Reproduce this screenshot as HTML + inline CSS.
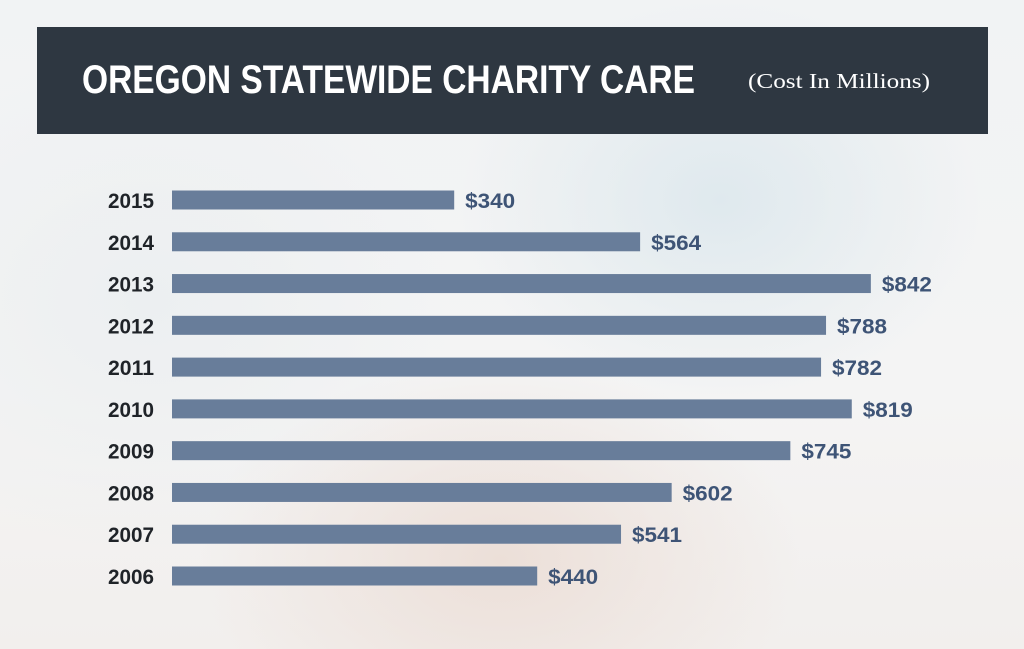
<!DOCTYPE html>
<html><head><meta charset="utf-8"><style>
body{margin:0;width:1024px;height:649px;overflow:hidden;font-family:"Liberation Sans",sans-serif;}
#bg{position:absolute;left:0;top:0;width:1024px;height:649px;
background:radial-gradient(ellipse 260px 200px at 720px 200px,#dfe9ee 0%,rgba(223,233,238,0) 100%),
radial-gradient(ellipse 300px 250px at 150px 300px,#eceff1 0%,rgba(236,239,241,0) 100%),
radial-gradient(ellipse 300px 200px at 500px 560px,#ecdfd8 0%,rgba(236,223,216,0) 100%),
linear-gradient(180deg,#f1f3f4 0%,#f4f4f4 60%,#f2efed 100%);}
#hdr{position:absolute;left:37px;top:27px;width:951px;height:107px;background:#2e3741;}
svg{position:absolute;left:0;top:0;}
</style></head><body>
<div id="bg"></div>
<div id="hdr"></div>
<svg id="chart" width="1024" height="649">
<text x="82" y="93" font-size="40" font-weight="bold" fill="#fff" textLength="613" lengthAdjust="spacingAndGlyphs">OREGON STATEWIDE CHARITY CARE</text>
<text x="748" y="88" font-size="21" font-family="Liberation Serif, serif" fill="#fff" textLength="182" lengthAdjust="spacingAndGlyphs">(Cost In Millions)</text>
</svg>
<script>
const years=["2015","2014","2013","2012","2011","2010","2009","2008","2007","2006"];
const values=[340,564,842,788,782,819,745,602,541,440];
const labels=["$340","$564","$842","$788","$782","$819","$745","$602","$541","$440"];
const svg=document.getElementById('chart');
const NS="http://www.w3.org/2000/svg";
const x0=172, k=0.83;
function xs(v){return x0+v*k;}
function ys(i){return 200+i*(576-200)/(years.length-1);}
years.forEach((yr,i)=>{
 const y=ys(i);
 const r=document.createElementNS(NS,'rect');
 
 
 r.setAttribute('x',x0);r.setAttribute('y',y-9.5);r.setAttribute('width',xs(values[i])-x0);r.setAttribute('height',19);r.setAttribute('fill','#687d9a');
 svg.appendChild(r);
 const t=document.createElementNS(NS,'text');
 
 
 t.setAttribute('x',108);t.setAttribute('y',y+8);t.setAttribute('font-size',21);t.setAttribute('font-weight','bold');t.setAttribute('fill','#1f2328');
 t.setAttribute('textLength',46);t.setAttribute('lengthAdjust','spacingAndGlyphs');
 t.textContent=yr;svg.appendChild(t);
 const v=document.createElementNS(NS,'text');
 
 
 v.setAttribute('x',xs(values[i])+11);v.setAttribute('y',y+8);v.setAttribute('font-size',21);v.setAttribute('font-weight','bold');v.setAttribute('fill','#3e5476');
 v.setAttribute('textLength',50);v.setAttribute('lengthAdjust','spacingAndGlyphs');
 v.textContent=labels[i];svg.appendChild(v);
});
</script>
</body></html>
